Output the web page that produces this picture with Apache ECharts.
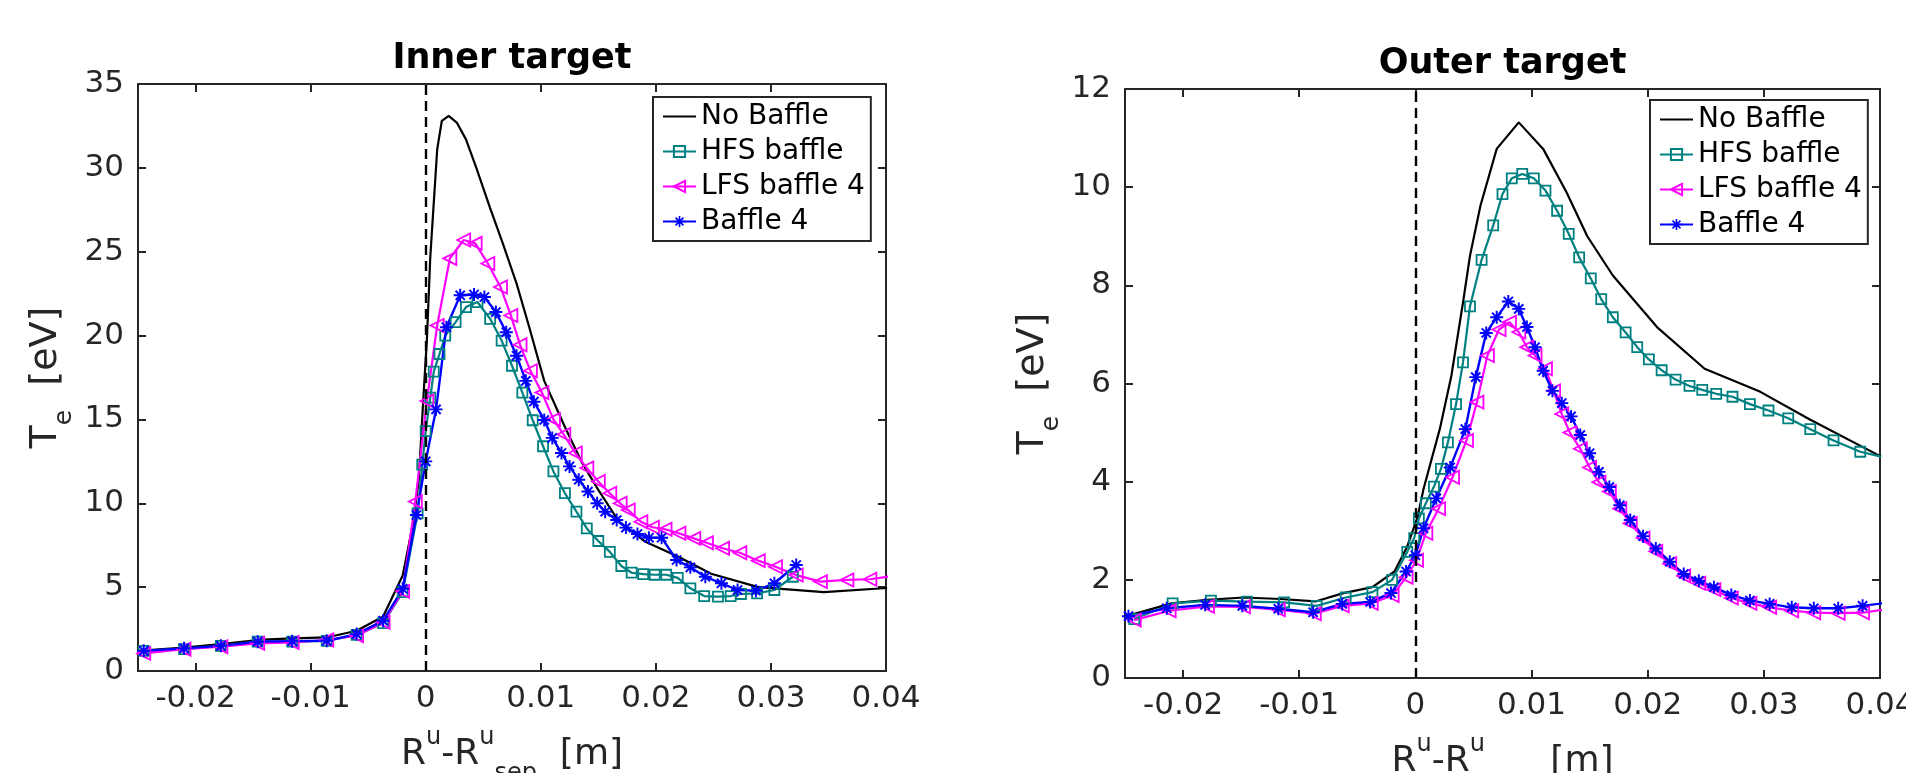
<!DOCTYPE html>
<html>
<head>
<meta charset="utf-8">
<title>Te at inner and outer targets</title>
<script src="https://cdn.jsdelivr.net/npm/echarts@6/dist/echarts.min.js"></script>
<style>
  html, body { margin: 0; padding: 0; background: #ffffff; }
  #chart { width: 1906px; height: 773px; }
</style>
</head>
<body>
<div id="chart"></div>
<script>
// ---------- tick labels ----------
const xTickValues = [-0.02, -0.01, 0, 0.01, 0.02, 0.03, 0.04];
const seriesNames = ['No Baffle', 'HFS baffle', 'LFS baffle 4', 'Baffle 4'];
const panelTitles = ['Inner target', 'Outer target'];

// ---------- Inner target: R^u - R^u_sep [m] and Te [eV] ----------
const innerNoBaffleX = [-0.025, -0.021, -0.0178, -0.0146, -0.0116, -0.0086, -0.006, -0.0037, -0.002, -0.0011,
  -0.0006, -0.0002, 0.0001, 0.0004, 0.001, 0.0014, 0.002, 0.0027, 0.0035, 0.0044,
  0.0056, 0.0067, 0.0079, 0.009, 0.0103, 0.0122, 0.0136, 0.015, 0.0168, 0.0191,
  0.022, 0.0248, 0.0289, 0.0346, 0.0401];
const innerNoBaffleT = [1.2, 1.4, 1.6, 1.85, 1.95, 2.0, 2.4, 3.25, 5.7, 8.8,
  11.4, 16.3, 19.7, 24.7, 31.1, 32.8, 33.1, 32.7, 31.7, 30.0,
  27.6, 25.5, 23.1, 20.5, 17.3, 14.4, 12.4, 10.8, 8.9, 7.7,
  6.8, 5.8, 5.0, 4.7, 4.95];

const innerHfsX = [-0.0245, -0.021, -0.0178, -0.0146, -0.0116, -0.0086, -0.006, -0.0037, -0.002,
  -0.0007, -0.0003, 0.0, 0.0004, 0.0007, 0.0012, 0.0017, 0.0026, 0.0035, 0.0045,
  0.0056, 0.0066, 0.0075, 0.0084, 0.0093, 0.0102, 0.0111, 0.0121, 0.0131, 0.014,
  0.015, 0.016, 0.017, 0.0179, 0.0189, 0.0199, 0.0209, 0.0219, 0.023, 0.0242,
  0.0254, 0.0265, 0.0274, 0.0288, 0.0303, 0.0319];
const innerHfsT = [1.2, 1.3, 1.5, 1.75, 1.75, 1.8, 2.15, 2.85, 4.7,
  9.4, 12.3, 14.3, 16.3, 17.85, 18.9, 20.0, 20.8, 21.7, 22.0,
  21.0, 19.7, 18.2, 16.6, 14.95, 13.4, 11.9, 10.6, 9.5, 8.5,
  7.75, 7.1, 6.26, 5.86, 5.78, 5.74, 5.74, 5.55, 4.93, 4.47,
  4.43, 4.47, 4.59, 4.63, 4.83, 5.62];

const innerLfsX = [-0.0245, -0.021, -0.0178, -0.0146, -0.0116, -0.0086, -0.006, -0.0037, -0.002,
  -0.0009, 0.0001, 0.001, 0.0021, 0.0033, 0.0043, 0.0054, 0.0065, 0.0074, 0.0082,
  0.0091, 0.0101, 0.0111, 0.012, 0.013, 0.014, 0.015, 0.016, 0.0169, 0.0176,
  0.0187, 0.0197, 0.0208, 0.022, 0.0233, 0.0244, 0.0258, 0.0273, 0.0289, 0.0304,
  0.0322, 0.0343, 0.0366, 0.0386, 0.041];
const innerLfsT = [1.05, 1.3, 1.45, 1.65, 1.7, 1.85, 2.1, 2.9, 4.75,
  10.1, 16.1, 20.6, 24.6, 25.7, 25.5, 24.3, 22.9, 21.2, 19.45,
  17.9, 16.6, 15.0, 14.1, 13.0, 12.1, 11.3, 10.6, 10.0, 9.6,
  8.9, 8.57, 8.45, 8.21, 7.91, 7.65, 7.32, 7.05, 6.58, 6.22,
  5.72, 5.33, 5.43, 5.47, 5.7];

const innerB4X = [-0.0245, -0.021, -0.0178, -0.0146, -0.0116, -0.0086, -0.006, -0.0037, -0.002,
  -0.0008, 0.0, 0.0009, 0.0018, 0.003, 0.0042, 0.0051, 0.0061, 0.007, 0.0079,
  0.0087, 0.0094, 0.0103, 0.011, 0.0118, 0.0125, 0.0133, 0.0141, 0.0149, 0.0156,
  0.0166, 0.0174, 0.0184, 0.0194, 0.0205, 0.0218, 0.023, 0.0243, 0.0257, 0.0271,
  0.0287, 0.0303, 0.0322];
const innerB4T = [1.2, 1.35, 1.5, 1.75, 1.78, 1.8, 2.2, 3.0, 4.9,
  9.3, 12.5, 15.6, 20.5, 22.4, 22.45, 22.3, 21.4, 20.2, 18.8,
  17.3, 16.06, 14.97, 13.9, 13.0, 12.2, 11.4, 10.7, 10.0, 9.5,
  9.0, 8.55, 8.17, 7.95, 7.95, 6.62, 6.18, 5.62, 5.23, 4.83,
  4.79, 5.23, 6.32];

// ---------- Outer target ----------
const outerNoBaffleX = [-0.025, -0.021, -0.0179, -0.0148, -0.0116, -0.0086, -0.0062, -0.0037, -0.0018, -0.0007,
  0.0002, 0.0007, 0.0021, 0.0031, 0.0041, 0.0047, 0.0056, 0.007, 0.0089, 0.011,
  0.013, 0.0148, 0.017, 0.0208, 0.0249, 0.0297, 0.034, 0.0401];
const outerNoBaffleT = [1.25, 1.52, 1.59, 1.64, 1.61, 1.56, 1.73, 1.85, 2.17, 2.68,
  3.29, 3.85, 5.07, 6.16, 7.65, 8.6, 9.62, 10.78, 11.32, 10.78,
  9.9, 9.0, 8.2, 7.15, 6.3, 5.83, 5.26, 4.51];

const outerHfsX = [-0.0242, -0.0209, -0.0176, -0.0145, -0.0113, -0.0085, -0.006, -0.0037, -0.002, -0.0007,
  -0.0001, 0.0003, 0.0009, 0.0016, 0.0022, 0.0028, 0.0035, 0.0041, 0.0047, 0.0057,
  0.0067, 0.0075, 0.0083, 0.0092, 0.0102, 0.0112, 0.0122, 0.0132, 0.0141, 0.0151,
  0.016, 0.017, 0.0181, 0.0191, 0.0201, 0.0212, 0.0224, 0.0236, 0.0247, 0.0259,
  0.0273, 0.0288, 0.0304, 0.0321, 0.034, 0.036, 0.0383, 0.0401];
const outerHfsT = [1.2, 1.52, 1.575, 1.555, 1.54, 1.47, 1.64, 1.75, 2.0, 2.57,
  2.85, 3.25, 3.56, 3.9, 4.26, 4.8, 5.58, 6.43, 7.57, 8.52,
  9.22, 9.86, 10.18, 10.27, 10.18, 9.93, 9.52, 9.05, 8.57, 8.14,
  7.72, 7.35, 7.04, 6.74, 6.49, 6.27, 6.08, 5.95, 5.87, 5.79,
  5.73, 5.58, 5.45, 5.29, 5.07, 4.84, 4.61, 4.51];

const outerLfsX = [-0.0242, -0.0212, -0.0179, -0.0148, -0.0118, -0.0087, -0.0063, -0.0038, -0.002, -0.0008,
  0.0001, 0.0009, 0.002, 0.0032, 0.0044, 0.0053, 0.0062, 0.0072, 0.0081, 0.0089,
  0.0096, 0.0103, 0.0112, 0.0119, 0.0126, 0.0133, 0.0142, 0.015, 0.0158, 0.0167,
  0.0176, 0.0185, 0.0196, 0.0207, 0.0219, 0.0231, 0.0244, 0.0257, 0.0272, 0.0288,
  0.0305, 0.0324, 0.0343, 0.0364, 0.0385, 0.0405];
const outerLfsT = [1.18, 1.37, 1.46, 1.45, 1.39, 1.31, 1.47, 1.52, 1.68, 2.05,
  2.4, 2.95, 3.45, 4.09, 4.84, 5.62, 6.57, 7.1, 7.25, 7.05,
  6.74, 6.57, 6.3, 5.85, 5.38, 5.0, 4.67, 4.29, 3.99, 3.8,
  3.45, 3.15, 2.85, 2.58, 2.33, 2.08, 1.93, 1.8, 1.63, 1.52,
  1.44, 1.37, 1.33, 1.32, 1.33, 1.4];

const outerB4X = [-0.0247, -0.0214, -0.0181, -0.0149, -0.0118, -0.0088, -0.0063, -0.0039, -0.0021, -0.0008,
  0.0, 0.0007, 0.0018, 0.003, 0.0043, 0.0052, 0.0061, 0.007, 0.008, 0.0089,
  0.0096, 0.0103, 0.011, 0.0118, 0.0126, 0.0134, 0.0142, 0.015, 0.0158, 0.0167,
  0.0176, 0.0185, 0.0196, 0.0207, 0.0219, 0.0231, 0.0244, 0.0257, 0.0272, 0.0288,
  0.0305, 0.0324, 0.0343, 0.0364, 0.0385, 0.0405];
const outerB4T = [1.26, 1.42, 1.49, 1.47, 1.41, 1.34, 1.51, 1.55, 1.73, 2.17,
  2.5, 3.05, 3.66, 4.29, 5.07, 6.13, 7.03, 7.35, 7.67, 7.52,
  7.15, 6.74, 6.26, 5.85, 5.6, 5.33, 4.95, 4.58, 4.2, 3.89,
  3.52, 3.22, 2.89, 2.64, 2.37, 2.12, 1.98, 1.85, 1.69, 1.58,
  1.51, 1.44, 1.42, 1.42, 1.47, 1.53];

// ---------- styling ----------
const AXIS_COLOR = '#262626';
const FONT = '"DejaVu Sans", "Noto Sans", sans-serif';
const ASTERISK = 'path://M8.5 0L11.5 0L11.5 20L8.5 20Z M0 8.5L20 8.5L20 11.5L0 11.5Z ' +
  'M3.99 1.87L18.13 16.01L16.01 18.13L1.87 3.99Z M18.13 3.99L3.99 18.13L1.87 16.01L16.01 1.87Z';

const seriesStyle = {
  'No Baffle':    { color: '#000000', symbol: 'none', size: 0, width: 2.2, filled: true },
  'HFS baffle':   { color: '#008080', symbol: 'rect', size: 10, width: 2.2, filled: false },
  'LFS baffle 4': { color: '#ff00ff', symbol: 'triangle', size: 13, rotate: 90, width: 2.2, filled: false },
  'Baffle 4':     { color: '#0000ff', symbol: ASTERISK, size: 13, width: 2.4, filled: true }
};

const zip = (xs, ys) => xs.map((x, i) => [x, ys[i]]);
const fmtX = v => (Math.abs(v) < 1e-12 ? '0' : String(+v.toFixed(3)));

function lineSeries(name, xs, ys, axisIndex, withZeroLine) {
  const st = seriesStyle[name];
  const s = {
    name: name,
    type: 'line',
    xAxisIndex: axisIndex,
    yAxisIndex: axisIndex,
    data: zip(xs, ys),
    symbol: st.symbol,
    symbolSize: st.size,
    symbolRotate: st.rotate || 0,
    showAllSymbol: true,
    clip: true,
    animation: false,
    lineStyle: { color: st.color, width: st.width },
    itemStyle: st.filled
      ? { color: st.color }
      : { color: 'rgba(255,255,255,0)', borderColor: st.color, borderWidth: 1.8 },
    emphasis: { disabled: true }
  };
  if (withZeroLine) {
    // dashed separatrix marker at x = 0
    s.markLine = {
      silent: true,
      symbol: ['none', 'none'],
      label: { show: false },
      lineStyle: { color: '#000000', width: 2.4, type: [10, 6] },
      data: [{ xAxis: 0 }]
    };
  }
  return s;
}

function xAxisDef(gridIndex, position, primary) {
  const a = {
    gridIndex: gridIndex,
    type: 'value',
    position: position,
    min: -0.025,
    max: 0.04,
    axisLine: { show: true, onZero: false, lineStyle: { color: AXIS_COLOR, width: 2 } },
    axisTick: { show: true, inside: true, length: 8, customValues: xTickValues,
                lineStyle: { color: AXIS_COLOR, width: 2 } },
    axisLabel: { show: primary, customValues: xTickValues, formatter: fmtX,
                 fontSize: 31, fontFamily: FONT, color: AXIS_COLOR, margin: 12 },
    splitLine: { show: false }
  };
  if (primary) {
    a.name = '{m|R}{sup|u}{m|-R}{sup|u}{sub|sep}{m|  [m]}';
    a.nameLocation = 'middle';
    a.nameGap = 49;
    a.nameTextStyle = {
      color: AXIS_COLOR, fontFamily: FONT,
      rich: {
        m: { fontSize: 36, lineHeight: 70, verticalAlign: 'middle', fontFamily: FONT, color: AXIS_COLOR },
        sup: { fontSize: 24, lineHeight: 24, verticalAlign: 'top', padding: [6, 0, 0, 0], fontFamily: FONT, color: AXIS_COLOR },
        sub: { fontSize: 24, lineHeight: 24, verticalAlign: 'bottom', padding: [0, 0, 4, 0], fontFamily: FONT, color: AXIS_COLOR }
      }
    };
  }
  return a;
}

function yAxisDef(gridIndex, position, primary, max, interval) {
  const a = {
    gridIndex: gridIndex,
    type: 'value',
    position: position,
    min: 0,
    max: max,
    interval: interval,
    axisLine: { show: true, onZero: false, lineStyle: { color: AXIS_COLOR, width: 2 } },
    axisTick: { show: true, inside: true, length: 8, lineStyle: { color: AXIS_COLOR, width: 2 } },
    axisLabel: { show: primary, fontSize: 31, fontFamily: FONT, color: AXIS_COLOR, margin: 14 },
    splitLine: { show: false }
  };
  if (primary) {
    a.name = '{m|T}{sub|e}{m|  [eV]}';
    a.nameLocation = 'middle';
    a.nameGap = 34;
    a.nameTextStyle = {
      color: AXIS_COLOR, fontFamily: FONT,
      rich: {
        m: { fontSize: 38, lineHeight: 70, verticalAlign: 'middle', fontFamily: FONT, color: AXIS_COLOR },
        sub: { fontSize: 25, lineHeight: 25, verticalAlign: 'bottom', padding: [0, 0, 4, 0], fontFamily: FONT, color: AXIS_COLOR }
      }
    };
  }
  return a;
}

function legendDef(left, top) {
  return {
    left: left,
    top: top,
    orient: 'vertical',
    // the plain line carries no marker, so its legend sample hides the symbol
    data: seriesNames.map(n => (seriesStyle[n].symbol === 'none'
      ? { name: n, itemStyle: { opacity: 0 } }
      : { name: n })),
    selectedMode: false,
    backgroundColor: '#ffffff',
    borderColor: AXIS_COLOR,
    borderWidth: 2,
    borderRadius: 0,
    padding: [3, 6, 3, 9],
    itemWidth: 33,
    itemHeight: 14,
    itemGap: 2,
    textStyle: { fontSize: 28, fontFamily: FONT, color: '#000000', lineHeight: 33 }
  };
}

const grids = [
  { left: 138, top: 84, width: 748, height: 587, outerBoundsMode: 'none', containLabel: false },
  { left: 1125, top: 89, width: 755, height: 589, outerBoundsMode: 'none', containLabel: false }
];

function titleText(text, cx, y) {
  return {
    type: 'text',
    x: cx,
    y: y,
    silent: true,
    style: {
      text: text,
      font: 'bold 35px ' + FONT,
      fill: '#000000',
      textAlign: 'center',
      align: 'center',
      textVerticalAlign: 'top',
      verticalAlign: 'top'
    }
  };
}

const option = {
  backgroundColor: '#ffffff',
  animation: false,
  grid: grids,
  xAxis: [
    xAxisDef(0, 'bottom', true),
    xAxisDef(0, 'top', false),
    xAxisDef(1, 'bottom', true),
    xAxisDef(1, 'top', false)
  ],
  yAxis: [
    yAxisDef(0, 'left', true, 35, 5),
    yAxisDef(0, 'right', false, 35, 5),
    yAxisDef(1, 'left', true, 12, 2),
    yAxisDef(1, 'right', false, 12, 2)
  ],
  legend: [legendDef(653, 97), legendDef(1650, 100)],
  graphic: [
    titleText(panelTitles[0], grids[0].left + grids[0].width / 2, 41),
    titleText(panelTitles[1], grids[1].left + grids[1].width / 2, 46)
  ],
  series: [
    lineSeries('No Baffle', innerNoBaffleX, innerNoBaffleT, 0, true),
    lineSeries('HFS baffle', innerHfsX, innerHfsT, 0, false),
    lineSeries('LFS baffle 4', innerLfsX, innerLfsT, 0, false),
    lineSeries('Baffle 4', innerB4X, innerB4T, 0, false),
    lineSeries('No Baffle', outerNoBaffleX, outerNoBaffleT, 2, true),
    lineSeries('HFS baffle', outerHfsX, outerHfsT, 2, false),
    lineSeries('LFS baffle 4', outerLfsX, outerLfsT, 2, false),
    lineSeries('Baffle 4', outerB4X, outerB4T, 2, false)
  ]
};

const chart = echarts.init(document.getElementById('chart'), null, { renderer: 'canvas' });
chart.setOption(option);
</script>
</body>
</html>
